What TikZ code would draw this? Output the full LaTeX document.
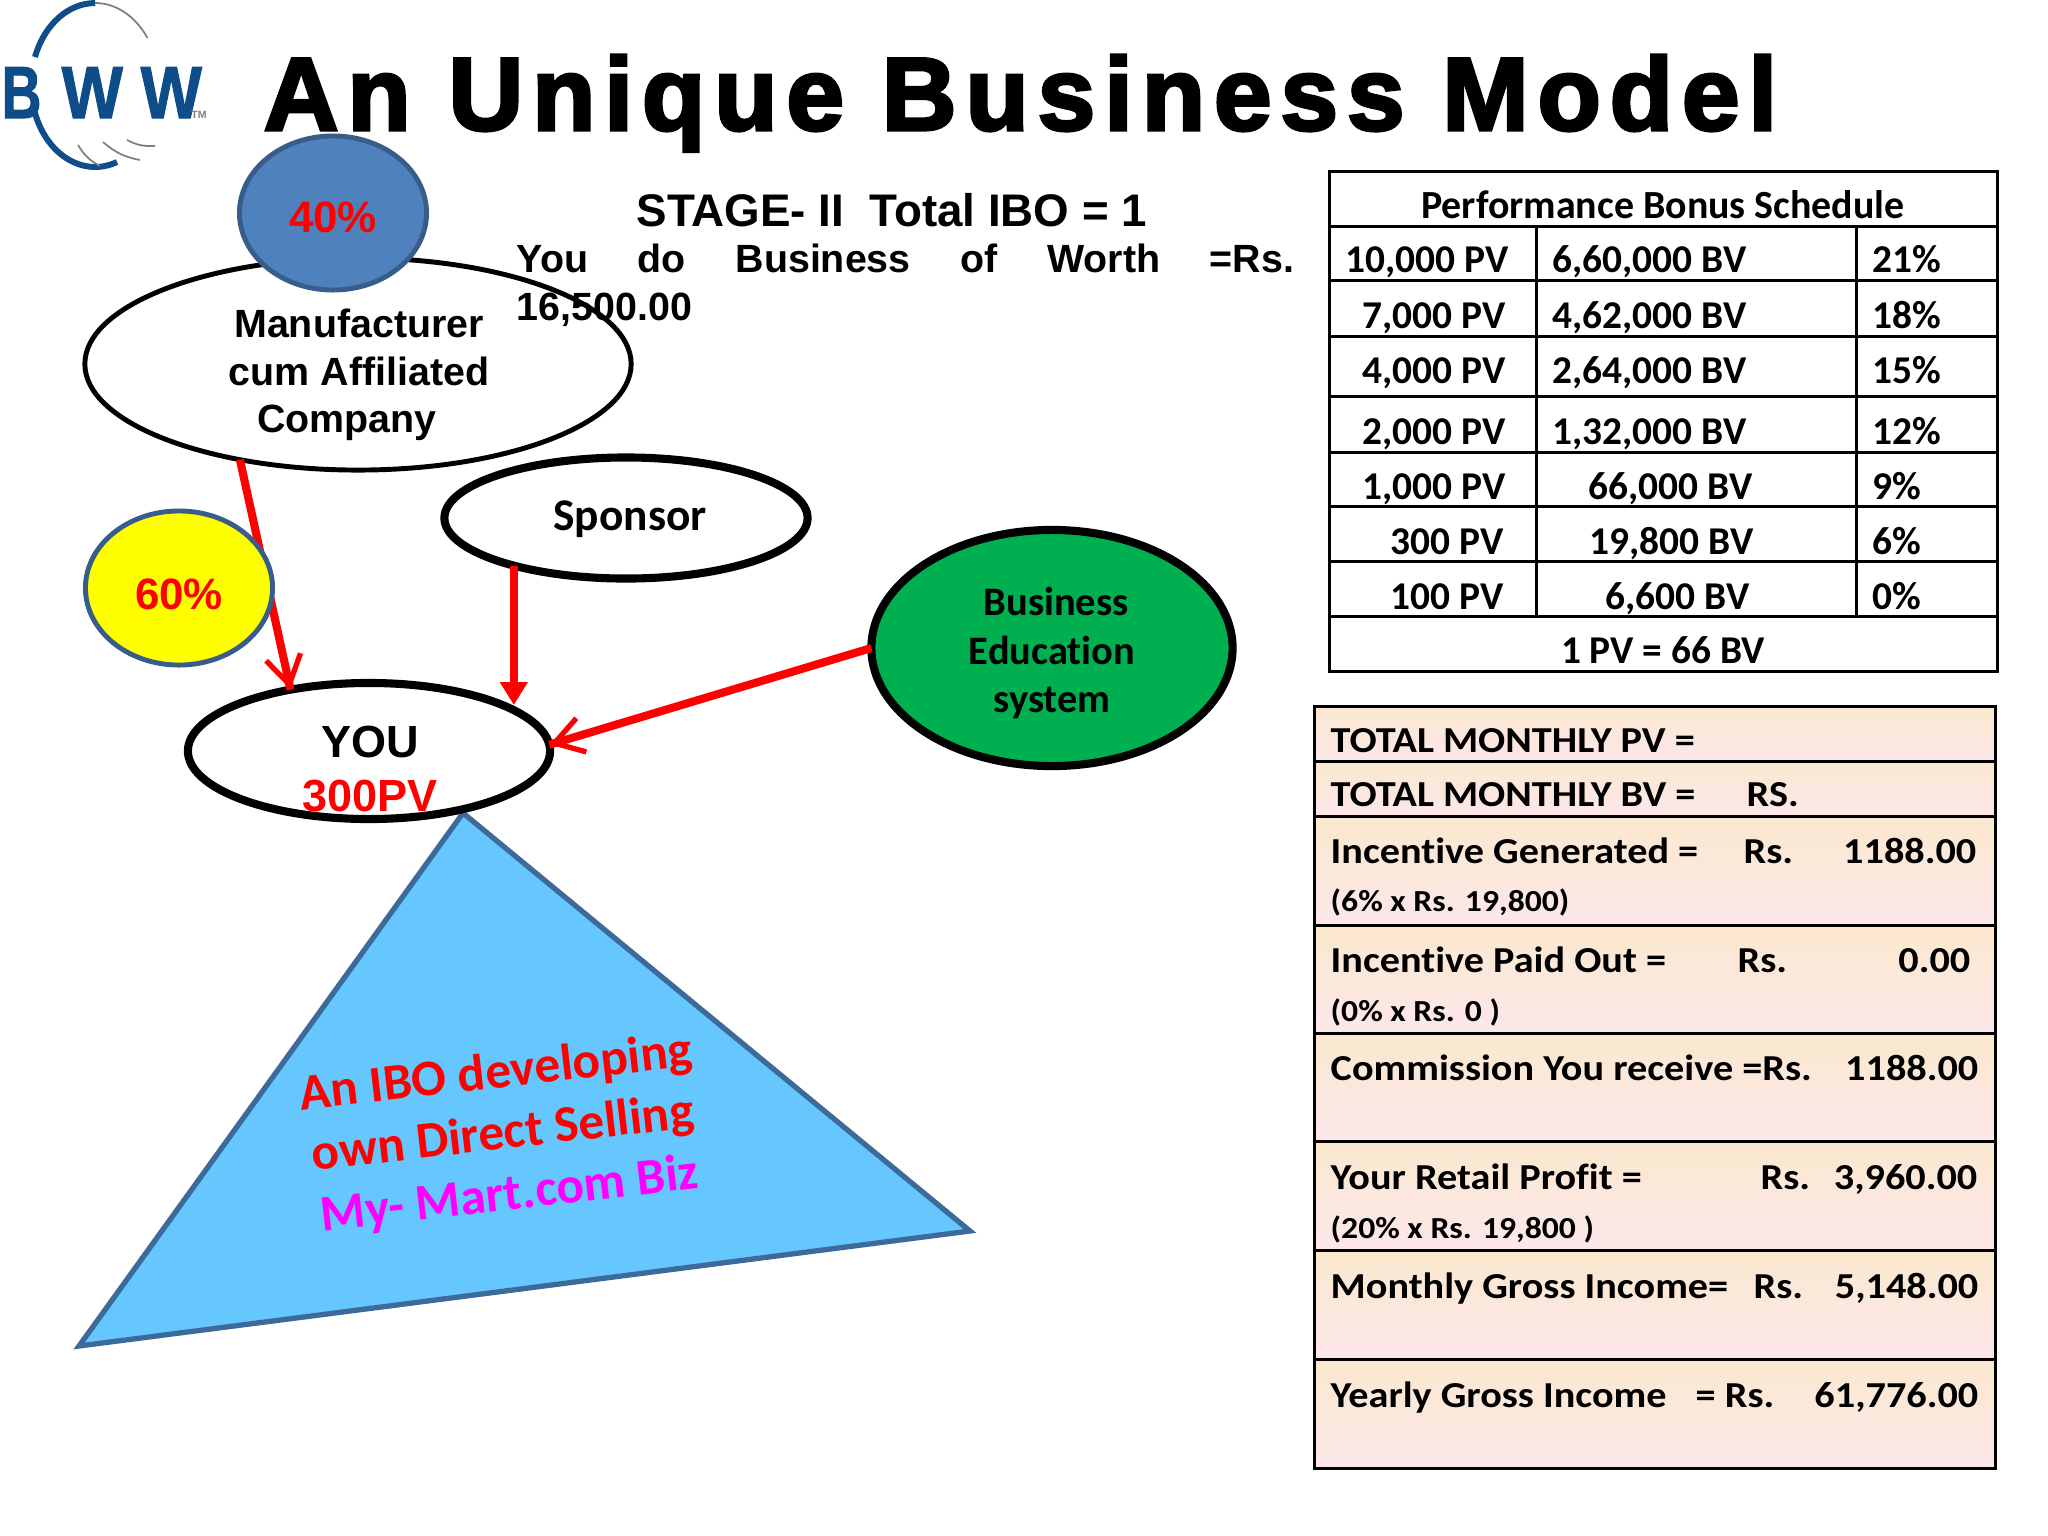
\documentclass[tikz,border=0pt]{standalone}
\usepackage{fontspec}
\setmainfont[Ligatures=NoCommon]{Carlito}
\newfontfamily\arialfont{Liberation Sans Bold}
\newfontfamily\logofont[FakeBold=1.5]{Liberation Sans Bold}
\newfontfamily\titlefont[LetterSpace=8.5,FakeBold=3]{Liberation Sans Bold}
\newfontfamily\boxfont[FakeStretch=1.1,Ligatures=NoCommon]{Carlito Bold}
\usetikzlibrary{arrows.meta,shapes.geometric}

\definecolor{ringblue}{HTML}{385D8A}
\definecolor{circblue}{HTML}{4F81BD}
\definecolor{greenfill}{HTML}{00B050}
\definecolor{trifill}{HTML}{66C7FF}
\definecolor{triline}{HTML}{3C6A9B}
\definecolor{logoblue}{HTML}{0F4C8A}
\definecolor{rowtop}{HTML}{FBE8CE}
\definecolor{rowbot}{HTML}{FDE7EA}
\definecolor{badgeyellow}{RGB}{255,255,0}
\definecolor{bizpink}{RGB}{255,0,255}

\tikzset{
	oval/.style={ellipse, draw=black, inner sep=0pt, outer sep=0pt, line width=2.3pt},
	badge/.style={ellipse, draw=ringblue, inner sep=0pt, outer sep=0pt, line width=1.4pt, minimum width=1.87cm, minimum height=1.54cm},
	badgetext/.style={inner sep=0pt, font=\arialfont\fontsize{12.5}{14}\selectfont, text=red},
	arial/.style={inner sep=0pt, font=\arialfont\fontsize{11.2}{13.55}\selectfont, align=center},
	calibri/.style={inner sep=0pt, font=\fontsize{11.5}{13.75}\selectfont\bfseries, align=center},
	tabletext/.style={inner sep=0pt, anchor=base west, font=\fontsize{11.2}{13}\selectfont\bfseries},
	boxtext/.style={inner sep=0pt, anchor=base west, font=\boxfont\fontsize{10.4}{13}\selectfont},
	boxsmall/.style={inner sep=0pt, anchor=base west, font=\boxfont\fontsize{8.7}{10}\selectfont},
	logoletter/.style={inner sep=0pt, text=logoblue, anchor=base west, font=\logofont\fontsize{21}{21}\selectfont},
	redline/.style={draw=red, line width=2.3pt},
	openhead/.style={redline, -{Straight Barb[length=8pt,width=10pt,line width=1.5pt,sep=0pt]Butt Cap[length=0.1pt]}},
	solidhead/.style={redline, -{Triangle[length=6.5pt,width=7.5pt]}},
	rule/.style={draw=black, line width=0.85pt},
}

\begin{document}
\begin{tikzpicture}[x=0.01cm, y=-0.01cm]
	\useasboundingbox (0,0) rectangle (2048,1536);

	\draw[logoblue, line width=1.7pt] (35,57) arc[start angle=200, end angle=270, x radius=64, y radius=82];
	\draw[gray, line width=0.5pt] (95,3) arc[start angle=270, end angle=325, x radius=64, y radius=82];
	\draw[logoblue, line width=1.7pt] (35,113) arc[start angle=160, end angle=70, x radius=64, y radius=82];
	\draw[gray, line width=0.5pt] (78,145) to[bend right=15] (100,166);
	\draw[gray, line width=0.5pt] (103,142) to[bend right=15] (140,160);
	\draw[gray, line width=0.5pt] (127,140) to[bend right=15] (155,146);
	\node[logoletter, xscale=0.75, transform shape] (logob) at (1,118) {B};
	\node[logoletter, xscale=0.88, transform shape] (logow) at (61,118) {W};
	\node[logoletter, xscale=0.88, transform shape] (logox) at (140,118) {W};
	\node[inner sep=0pt, text=gray, font=\arialfont\fontsize{3}{3}\selectfont] (logotm) at (199,115) {TM};

	\node[inner sep=0pt, anchor=base west, font=\titlefont\fontsize{29.5}{33}\selectfont] (title) at (263,130) {An Unique Business Model};

	\node[arial, anchor=base west, font=\arialfont\fontsize{13}{15}\selectfont] (stage) at (636,226) {STAGE- II\ \ Total IBO = 1};
	\node[arial, anchor=base west, text width=7.77cm, align=left] (worth) at (516,272) {You\hfill do\hfill Business\hfill of\hfill Worth\hfill =Rs.};
	\node[arial, anchor=base west] (amount) at (516,320) {16,500.00};

	\draw[fill=trifill, draw=triline, line width=1.5pt] (463,813) -- (970,1231) -- (79,1346) -- cycle;
	\node[inner sep=0pt, rotate=6.5, align=center, font=\fontsize{14.6}{17.4}\selectfont\bfseries, text=red] (ibotext) at (503,1135) {An IBO developing\\own Direct Selling\\\textcolor{bizpink}{My- Mart.com Biz}};

	\node[oval, line width=1.4pt, minimum width=5.46cm, minimum height=2.12cm] (manuf) at (358,364) {};
	\node[arial] (manuftext) at (359,375) {Manufacturer\\cum Affiliated\\Company\kern.24cm};
	\node[oval, minimum width=3.63cm, minimum height=1.21cm] (sponsor) at (626,518) {};
	\node[calibri, font=\fontsize{12.9}{15}\selectfont\bfseries] (sponsortext) at (630,519) {Sponsor};
	\node[oval, fill=greenfill, minimum width=3.61cm, minimum height=2.36cm] (edu) at (1052,648) {};
	\node[calibri] (edutext) at (1052,653) {\kern.08cm Business\\Education\\system};
	\node[oval, minimum width=3.62cm, minimum height=1.36cm] (you) at (369,751) {};
	\node[arial, font=\arialfont\fontsize{12.8}{15.6}\selectfont] (youtext) at (370,769) {YOU\\\textcolor{red}{300PV}};

	\draw[openhead] (manuf.219) -- (you.142);
	\draw[solidhead] (sponsor.203) -- (sponsor.203 |- you.19);
	\draw[openhead] (edu.west) -- (you.2.5);

	\node[badge, fill=circblue] (forty) at (333,213) {};
	\node[badgetext] (fortytext) at (333,217) {40\%};
	\node[badge, fill=badgeyellow] (sixty) at (179,588) {};
	\node[badgetext] (sixtytext) at (179,594) {60\%};

	\draw[rule] (1329,171) rectangle (1997,671);
	\foreach \yy in {226,280,336,396,452,506,561,616}
		\draw[rule] (1329,\yy) -- (1997,\yy);
	\foreach \xx in {1536,1856}
		\draw[rule] (\xx,226) -- (\xx,616);
	\node[tabletext, anchor=base, font=\fontsize{11.35}{13}\selectfont\bfseries] (head) at (1663,218) {Performance Bonus Schedule};
	\node[tabletext, anchor=base] (foot) at (1663,663) {1 PV = 66 BV};
	\foreach \yy/\pv/\pvx/\bv/\bvx/\pct in {
		272/{10,000 PV}/1345/{6,60,000 BV}/1552/21\%,
		328/{7,000 PV}/1362/{4,62,000 BV}/1552/18\%,
		383/{4,000 PV}/1362/{2,64,000 BV}/1552/15\%,
		444/{2,000 PV}/1362/{1,32,000 BV}/1552/12\%,
		499/{1,000 PV}/1362/{66,000 BV}/1588/9\%,
		554/{300 PV}/1390/{19,800 BV}/1589/6\%,
		609/{100 PV}/1390/{6,600 BV}/1605/0\%}{
		\node[tabletext] (pv\yy) at (\pvx,\yy) {\pv};
		\node[tabletext] (bv\yy) at (\bvx,\yy) {\bv};
		\node[tabletext] (pct\yy) at (1872,\yy) {\pct};
	}

	\foreach \ya/\yb in {706/761,761/816,816/925,925/1033,1033/1141,1141/1250,1250/1359,1359/1468}{
		\shade[top color=rowtop, bottom color=rowbot] (1314,\ya) rectangle (1995,\yb);
		\draw[rule] (1314,\ya) rectangle (1995,\yb);
	}
	\foreach \yy/\txt/\txb/\xb/\txc/\xc in {
		752/{TOTAL MONTHLY PV =}/{}/1746/{}/1976,
		806/{TOTAL MONTHLY BV =}/{RS.}/1746/{}/1976,
		863/{Incentive Generated =}/{Rs.}/1743/{1188.00}/1977,
		972/{Incentive Paid Out =}/{Rs.}/1737/{0.00}/1971,
		1080/{Commission You receive =Rs.}/{}/1746/{1188.00}/1979,
		1189/{Your Retail Profit =}/{Rs.}/1760/{3,960.00}/1978,
		1298/{Monthly Gross Income=}/{Rs.}/1753/{5,148.00}/1979,
		1407/{Yearly Gross Income}/{= Rs.}/1695/{61,776.00}/1979}{
		\node[boxtext] (lab\yy) at (1330,\yy) {\txt};
		\node[boxtext] (rs\yy) at (\xb,\yy) {\txb};
		\node[boxtext, anchor=base east] (sum\yy) at (\xc,\yy) {\txc};
	}
	\node[boxsmall] (noteone) at (1330,911) {(6\% x Rs. 19,800)};
	\node[boxsmall] (notetwo) at (1330,1021) {(0\% x Rs. 0 )};
	\node[boxsmall] (notethree) at (1330,1238) {(20\% x Rs. 19,800 )};
\end{tikzpicture}
\end{document}
